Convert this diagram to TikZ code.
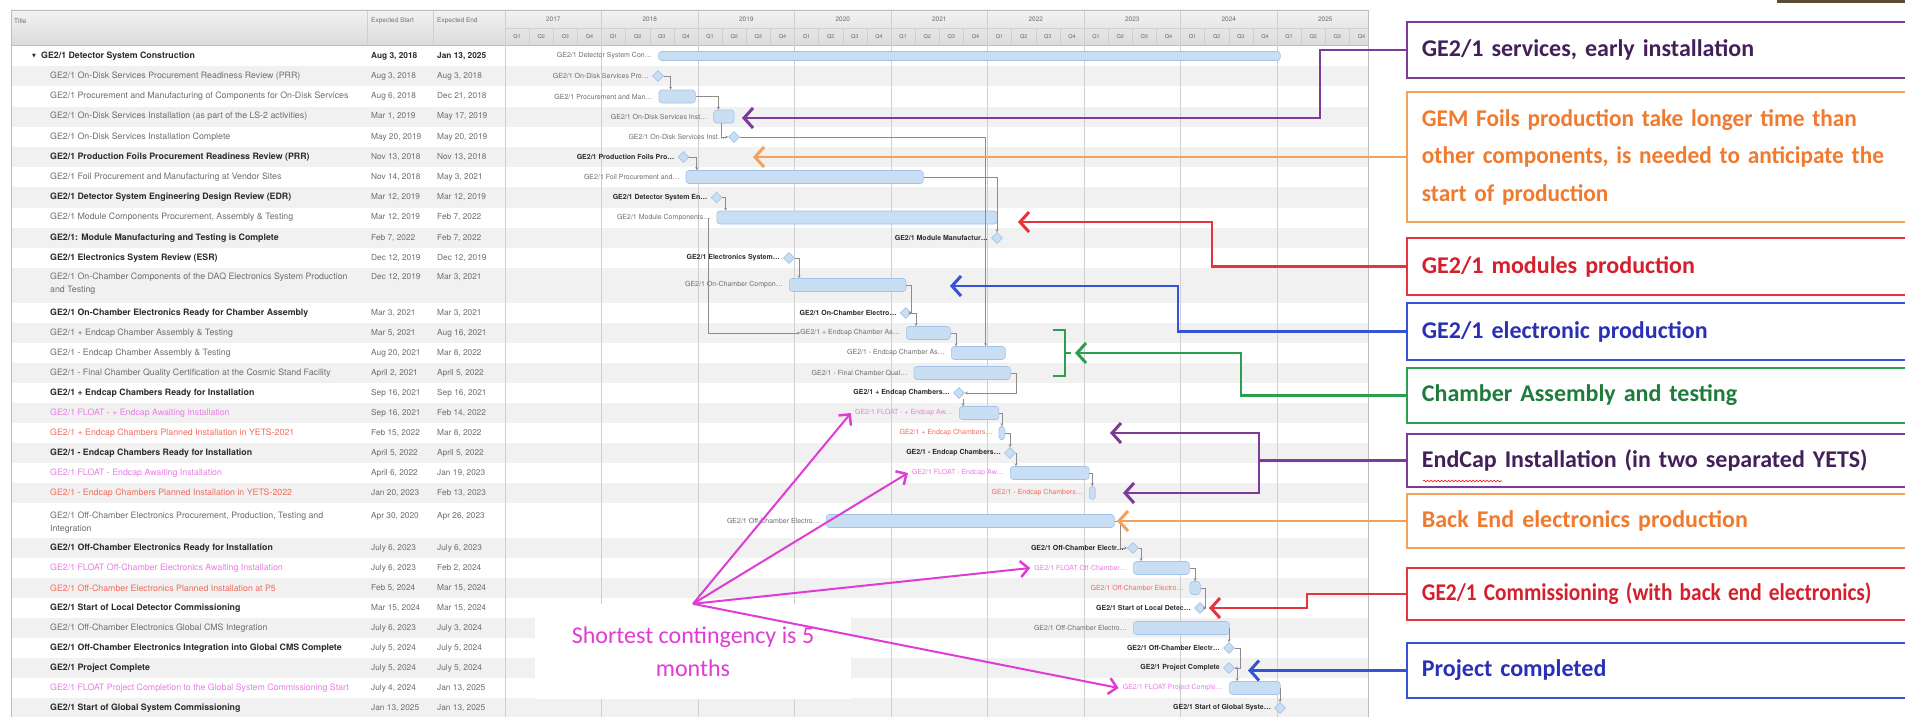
\documentclass[tikz,border=0pt]{standalone}
\usepackage{fontspec}
\usepackage{graphicx}
\setmainfont{TeX Gyre Heros}
\newfontfamily\calfont{Carlito}
\newfontfamily\djvfont{DejaVu Sans}
\usetikzlibrary{arrows.meta,shapes.geometric,decorations.pathmorphing}
\definecolor{tgray}{HTML}{6E6E6E}
\definecolor{tdark}{HTML}{2B2B2B}
\definecolor{flt}{HTML}{EA7BE6}
\definecolor{pln}{HTML}{F26B5E}
\definecolor{stripe}{HTML}{F1F1F1}
\definecolor{gridc}{HTML}{CFCFCF}
\definecolor{framec}{HTML}{BDBDBD}
\definecolor{barf}{HTML}{C9DEF3}
\definecolor{barb}{HTML}{A3C3E6}
\definecolor{depc}{HTML}{8C8C8C}
\definecolor{cpur}{HTML}{7E3A99}
\definecolor{cpurt}{HTML}{44205A}
\definecolor{cora}{HTML}{F5A15C}
\definecolor{corat}{HTML}{F07A2E}
\definecolor{cred}{HTML}{E8323C}
\definecolor{credt}{HTML}{D61F2C}
\definecolor{cblu}{HTML}{3553D2}
\definecolor{cblut}{HTML}{2A30B5}
\definecolor{cgrn}{HTML}{2C9E4E}
\definecolor{cgrnt}{HTML}{1E7B3B}
\definecolor{cmag}{HTML}{E03CD5}
\definecolor{darkbar}{HTML}{5B4B33}
\newcommand\tabrow[6]{%
  \node[#3] (t#1) at (50,#2) {#4};
  \node[datetxt] (s#1) at (371,#2) {#5};
  \node[datetxt] (e#1) at (437,#2) {#6};}
\newcommand\gbar[6]{%
  \node[gbarst, minimum width=#4pt-#3pt, anchor=west] (b#1) at (#3,#2) {};
  \node[glab,#6] (gl#1) at (#3-6,#2) {#5};}
\newcommand\gmil[5]{%
  \node[gms] (m#1) at (#3,#2) {};
  \node[glab,#5] (gl#1) at (#3-9,#2) {#4};}
\begin{document}
\begin{tikzpicture}[x=1pt,y=-1pt,
 rowtxt/.style={anchor=west, inner sep=0pt, font=\fontsize{8.8}{10}\selectfont, text=tgray},
 rowbold/.style={rowtxt, font=\bfseries\fontsize{8.8}{10}\selectfont, text=tdark},
 rowfloat/.style={rowtxt, text=flt},
 rowplan/.style={rowtxt, text=pln},
 datetxt/.style={anchor=west, inner sep=0pt, font=\fontsize{8.3}{10}\selectfont, text=tgray},
 hdrtxt/.style={anchor=west, inner sep=0pt, font=\fontsize{6.5}{8}\selectfont, text=tgray},
 glab/.style={anchor=east, inner sep=0pt, font=\fontsize{7}{8}\selectfont, text=tgray},
 gbold/.style={font=\bfseries\fontsize{7}{8}\selectfont, text=tdark},
 gfl/.style={text=flt}, gpl/.style={text=pln}, gno/.style={},
 gbarst/.style={draw=barb, fill=barf, rounded corners=3pt, minimum height=13pt, inner sep=0pt, line width=0.6pt},
 gms/.style={diamond, draw=barb, fill=barf, minimum size=11pt, inner sep=0pt, line width=0.6pt},
 dep/.style={draw=depc, line width=0.5pt, -{Stealth[length=3pt,width=3pt]}},
 cbox/.style={draw, line width=1.8pt, fill=white, anchor=west, inner xsep=15pt, inner ysep=0pt, align=left, text width=530pt, font=\calfont\bfseries\fontsize{24}{29}\selectfont},
 conn/.style={line width=2.2pt, -{Straight Barb[length=9pt,width=20pt,line width=3pt]}},
 marr/.style={draw=cmag, line width=2pt, -{Straight Barb[length=8pt,width=16pt,line width=2.5pt]}}
]
\useasboundingbox (0,0) rectangle (1905,717);
\fill[white] (0,0) rectangle (1905,717);
% stripes
\foreach \a/\b in {66/86,106.5/127,147/167,187/207.5,228/248,268/303,323/343,363/383,403/423,443/463,483/503,538/558,578/598,618/638,658/678,698/717}
  \fill[stripe] (11,\a) rectangle (1368,\b);
% header
\shade[top color=white!95!black, bottom color=white!86!black] (11,10) rectangle (1368,45);
\draw[framec] (11,45) -- (1368,45);
\draw[gridc] (505,28) -- (1368,28);
\foreach \x in {367,433} \draw[gridc] (\x,10) -- (\x,45);
\foreach \k in {0,...,8} \draw[gridc] ({505+96.5*\k},10) -- ({505+96.5*\k},717);
\foreach \k in {1,...,35} \draw[gridc] ({505+24.125*\k},28) -- ({505+24.125*\k},45);
\foreach \k in {0,...,35}{\pgfmathtruncatemacro\q{mod(\k,4)+1}
  \node[font=\fontsize{5.5}{6}\selectfont, text=tgray, inner sep=0pt] (q\k) at ({505+24.125*\k+12.06},36.5) {Q\q};}
\foreach \yr [count=\k from 0] in {2017,...,2025}
  \node[font=\fontsize{6.5}{7}\selectfont, text=tgray, inner sep=0pt] (yr\yr) at ({505+96.5*\k+48.25},19) {\yr};
\draw[framec, line width=0.8pt] (11,10) rectangle (1368,720);
\node[hdrtxt] (htitle) at (14,21) {Title};
\node[hdrtxt] (hstart) at (371,21) {Expected Start};
\node[hdrtxt] (hend) at (437,21) {Expected End};
% table rows
\node[font=\djvfont\fontsize{5}{6}\selectfont, text=tdark, inner sep=0pt] (tri) at (34,56) {▼};
\node[rowbold] (t1) at (41,56) {GE2/1 Detector System Construction};
\node[datetxt, font=\bfseries\fontsize{8.3}{10}\selectfont, text=tdark] (s1) at (371,56) {Aug 3, 2018};
\node[datetxt, font=\bfseries\fontsize{8.3}{10}\selectfont, text=tdark] (e1) at (437,56) {Jan 13, 2025};
\tabrow{2}{76}{rowtxt}{GE2/1 On-Disk Services Procurement Readiness Review (PRR)}{Aug 3, 2018}{Aug 3, 2018}
\tabrow{3}{96.5}{rowtxt}{GE2/1 Procurement and Manufacturing of Components for On-Disk Services}{Aug 6, 2018}{Dec 21, 2018}
\tabrow{4}{116.5}{rowtxt}{GE2/1 On-Disk Services Installation (as part of the LS-2 activities)}{Mar 1, 2019}{May 17, 2019}
\tabrow{5}{137}{rowtxt}{GE2/1 On-Disk Services Installation Complete}{May 20, 2019}{May 20, 2019}
\tabrow{6}{157}{rowbold}{GE2/1 Production Foils Procurement Readiness Review (PRR)}{Nov 13, 2018}{Nov 13, 2018}
\tabrow{7}{177}{rowtxt}{GE2/1 Foil Procurement and Manufacturing at Vendor Sites}{Nov 14, 2018}{May 3, 2021}
\tabrow{8}{197.5}{rowbold}{GE2/1 Detector System Engineering Design Review (EDR)}{Mar 12, 2019}{Mar 12, 2019}
\tabrow{9}{217.5}{rowtxt}{GE2/1 Module Components Procurement, Assembly \& Testing}{Mar 12, 2019}{Feb 7, 2022}
\tabrow{10}{238}{rowbold}{GE2/1: Module Manufacturing and Testing is Complete}{Feb 7, 2022}{Feb 7, 2022}
\tabrow{11}{258}{rowbold}{GE2/1 Electronics System Review (ESR)}{Dec 12, 2019}{Dec 12, 2019}
\node[rowtxt, align=left, font=\fontsize{8.8}{13}\selectfont] (t12) at (50,283.5) {GE2/1 On-Chamber Components of the DAQ Electronics System Production\\and Testing};
\node[datetxt] (s12) at (371,277) {Dec 12, 2019};
\node[datetxt] (e12) at (437,277) {Mar 3, 2021};
\tabrow{13}{313}{rowbold}{GE2/1 On-Chamber Electronics Ready for Chamber Assembly}{Mar 3, 2021}{Mar 3, 2021}
\tabrow{14}{333}{rowtxt}{GE2/1 + Endcap Chamber Assembly \& Testing}{Mar 5, 2021}{Aug 16, 2021}
\tabrow{15}{353}{rowtxt}{GE2/1 - Endcap Chamber Assembly \& Testing}{Aug 20, 2021}{Mar 8, 2022}
\tabrow{16}{373}{rowtxt}{GE2/1 - Final Chamber Quality Certification at the Cosmic Stand Facility}{April 2, 2021}{April 5, 2022}
\tabrow{17}{393}{rowbold}{GE2/1 + Endcap Chambers Ready for Installation}{Sep 16, 2021}{Sep 16, 2021}
\tabrow{18}{413}{rowfloat}{GE2/1 FLOAT - + Endcap Awaiting Installation}{Sep 16, 2021}{Feb 14, 2022}
\tabrow{19}{433}{rowplan}{GE2/1 + Endcap Chambers Planned Installation in YETS-2021}{Feb 15, 2022}{Mar 8, 2022}
\tabrow{20}{453}{rowbold}{GE2/1 - Endcap Chambers Ready for Installation}{April 5, 2022}{April 5, 2022}
\tabrow{21}{473}{rowfloat}{GE2/1 FLOAT - Endcap Awaiting Installation}{April 6, 2022}{Jan 19, 2023}
\tabrow{22}{493}{rowplan}{GE2/1 - Endcap Chambers Planned Installation in YETS-2022}{Jan 20, 2023}{Feb 13, 2023}
\node[rowtxt, align=left, font=\fontsize{8.8}{13}\selectfont] (t23) at (50,522.5) {GE2/1 Off-Chamber Electronics Procurement, Production, Testing and\\Integration};
\node[datetxt] (s23) at (371,516) {Apr 30, 2020};
\node[datetxt] (e23) at (437,516) {Apr 26, 2023};
\tabrow{24}{548}{rowbold}{GE2/1 Off-Chamber Electronics Ready for Installation}{July 6, 2023}{July 6, 2023}
\tabrow{25}{568}{rowfloat}{GE2/1 FLOAT Off-Chamber Electronics Awaiting Installation}{July 6, 2023}{Feb 2, 2024}
\tabrow{26}{588}{rowplan}{GE2/1 Off-Chamber Electronics Planned Installation at P5}{Feb 5, 2024}{Mar 15, 2024}
\tabrow{27}{608}{rowbold}{GE2/1 Start of Local Detector Commissioning}{Mar 15, 2024}{Mar 15, 2024}
\tabrow{28}{628}{rowtxt}{GE2/1 Off-Chamber Electronics Global CMS Integration}{July 6, 2023}{July 3, 2024}
\tabrow{29}{648}{rowbold}{GE2/1 Off-Chamber Electronics Integration into Global CMS Complete}{July 5, 2024}{July 5, 2024}
\tabrow{30}{668}{rowbold}{GE2/1 Project Complete}{July 5, 2024}{July 5, 2024}
\tabrow{31}{688}{rowfloat}{GE2/1 FLOAT Project Completion to the Global System Commissioning Start}{July 4, 2024}{Jan 13, 2025}
\tabrow{32}{708}{rowbold}{GE2/1 Start of Global System Commissioning}{Jan 13, 2025}{Jan 13, 2025}
% gantt
\node[gbarst, minimum height=9pt, minimum width=621.6pt, anchor=west] (b1) at (658.4,56) {};
\node[glab] (gl1) at (652,56) {GE2/1 Detector System Con\ldots};
\gmil{2}{76}{658}{GE2/1 On-Disk Services Pro\ldots}{gno}
\gbar{3}{96.5}{658.6}{695}{GE2/1 Procurement and Man\ldots}{gno}
\gbar{4}{116.5}{713.4}{733.8}{GE2/1 On-Disk Services Inst\ldots}{gno}
\gmil{5}{137}{734}{GE2/1 On-Disk Services Inst\ldots}{gno}
\gmil{6}{157}{683.5}{GE2/1 Production Foils Pro\ldots}{gbold}
\gbar{7}{177}{685.7}{923}{GE2/1 Foil Procurement and\ldots}{gno}
\gmil{8}{197.5}{716.6}{GE2/1 Detector System En\ldots}{gbold}
\gbar{9}{217.5}{716.6}{997}{GE2/1 Module Components\ldots}{gno}
\gmil{10}{238}{997}{GE2/1 Module Manufactur\ldots}{gbold}
\gmil{11}{258}{789}{GE2/1 Electronics System\ldots}{gbold}
\gbar{12}{285}{789}{905.7}{GE2/1 On-Chamber Compon\ldots}{gno}
\gmil{13}{313}{905.7}{GE2/1 On-Chamber Electro\ldots}{gbold}
\gbar{14}{333}{906}{950}{GE2/1 + Endcap Chamber As\ldots}{gno}
\gbar{15}{353}{951}{1005}{GE2/1 - Endcap Chamber As\ldots}{gno}
\gbar{16}{373}{913.6}{1010}{GE2/1 - Final Chamber Qual\ldots}{gno}
\gmil{17}{393}{959}{GE2/1 + Endcap Chambers\ldots}{gbold}
\gbar{18}{413}{959}{998.6}{GE2/1 FLOAT - + Endcap Aw\ldots}{gfl}
\gbar{19}{433}{998.7}{1004.4}{GE2/1 + Endcap Chambers\ldots}{gpl}
\gmil{20}{453}{1010}{GE2/1 - Endcap Chambers\ldots}{gbold}
\gbar{21}{473}{1010}{1088.8}{GE2/1 FLOAT - Endcap Aw\ldots}{gfl}
\gbar{22}{493}{1089}{1095}{GE2/1 - Endcap Chambers\ldots}{gpl}
\gbar{23}{521}{826}{1114}{GE2/1 Off-Chamber Electro\ldots}{gno}
\gmil{24}{548}{1133}{GE2/1 Off-Chamber Electr\ldots}{gbold}
\gbar{25}{568}{1133}{1189}{GE2/1 FLOAT Off-Chamber\ldots}{gfl}
\gbar{26}{588}{1189.6}{1200}{GE2/1 Off-Chamber Electro\ldots}{gpl}
\gmil{27}{608}{1200}{GE2/1 Start of Local Detec\ldots}{gbold}
\gbar{28}{628}{1133}{1229}{GE2/1 Off-Chamber Electro\ldots}{gno}
\gmil{29}{648}{1229}{GE2/1 Off-Chamber Electr\ldots}{gbold}
\gmil{30}{668}{1229}{GE2/1 Project Complete}{gbold}
\gbar{31}{688}{1229}{1280}{GE2/1 FLOAT Project Comple\ldots}{gfl}
\gmil{32}{708}{1280}{GE2/1 Start of Global Syste\ldots}{gbold}
% dependencies
\draw[dep] (m2.east) -| ([xshift=12pt]b3.north west);
\draw[dep] (b3.east) -| ([xshift=5pt]b4.north west);
\draw[dep] ([xshift=-3pt]b4.south) |- (m5.west);
\draw[dep] (m6.east) -| ([xshift=11pt]b7.north west);
\draw[dep] (m8.east) -| ([xshift=9pt]b9.north west);
\draw[dep] (b7.east) -| (m10.north);
\draw[dep] (m11.east) -| ([xshift=10pt]b12.north west);
\draw[dep] (b12.east) -- ++(5,0) |- (m13.east);
\draw[dep] (m13.east) -| ([xshift=10pt]b14.north west);
\draw[dep] (b14.east) -| ([xshift=5pt]b15.north west);
\draw[dep] (m5.east) -| ([xshift=-20pt]b15.north east);
\draw[dep] ([xshift=-8pt]b9.west) |- (gl14.west);
\draw[dep] (b16.east) -- ++(6,0) |- (m17.east);
\draw[dep] ([xshift=4pt]m17.south) -- ([xshift=4pt]m17.south |- b18.north);
\draw[dep] (b18.east) -| (b19.north);
\draw[dep] (b19.east) -| (m20.north);
\draw[dep] (m20.east) -| ([xshift=6pt]b21.north west);
\draw[dep] (b21.east) -| (b22.north);
\draw[dep] (b23.east) -- ++(6,0) |- (m24.west);
\draw[dep] (m24.east) -| ([xshift=8pt]b25.north west);
\draw[dep] (b25.east) -| (b26.north);
\draw[dep] (b26.east) -- ++(5,0) |- (m27.east);
\draw[dep] (b28.east) -| (m29.north);
\draw[dep] (m29.east) -- ++(5,0) |- (m30.east);
\draw[dep] (m30.east) -| ([xshift=8pt]b31.north west);
\draw[dep] (b31.east) -| (m32.north);
% callout boxes
\node[cbox, draw=cpur, text=cpurt, minimum height=56pt] (c1) at (1406,50) {GE2/1 services, early installation};
\node[cbox, draw=cora, text=corat, minimum height=130pt, font=\calfont\bfseries\fontsize{24}{37.5}\selectfont] (c2) at (1406,157) {\scalebox{0.97}[1]{GEM Foils production take longer time than}\\\scalebox{0.97}[1]{other components, is needed to anticipate the}\\\scalebox{0.97}[1]{start of production}};
\node[cbox, draw=cred, text=credt, minimum height=57pt] (c3) at (1406,266.5) {GE2/1 modules production};
\node[cbox, draw=cblu, text=cblut, minimum height=57pt] (c4) at (1406,331.5) {GE2/1 electronic production};
\node[cbox, draw=cgrn, text=cgrnt, minimum height=55pt] (c5) at (1406,395.5) {Chamber Assembly and testing};
\node[cbox, draw=cpur, text=cpurt, minimum height=53pt] (c6) at (1406,460.5) {EndCap Installation (in two separated YETS)};
\node[cbox, draw=cora, text=corat, minimum height=54pt] (c7) at (1406,521) {Back End electronics production};
\node[cbox, draw=cred, text=credt, minimum height=52pt] (c8) at (1406,594) {\scalebox{0.89}[1]{GE2/1 Commissioning (with back end electronics)}};
\node[cbox, draw=cblu, text=cblut, minimum height=55pt] (c9) at (1406,670.5) {Project completed};
\draw[red, line width=0.6pt, decorate, decoration={snake, amplitude=0.8pt, segment length=3.5pt}] (1423,481) -- (1502,481);
% callout connectors
\coordinate (a1) at (742,118);
\draw[conn, draw=cpur] (c1.west) -- (1320,50) -- (1320,118) -- (a1);
\coordinate (a2) at (753,157);
\draw[conn, draw=cora] (c2.west) -- (a2);
\coordinate (a3) at (1018,222);
\draw[conn, draw=cred] (c3.west) -- (1212,266.5) -- (1212,222) -- (a3);
\coordinate (a4) at (950,286);
\draw[conn, draw=cblu] (c4.west) -- (1178,331.5) -- (1178,286) -- (a4);
\coordinate (a5) at (1075,353);
\draw[conn, draw=cgrn] (c5.west) -- (1241,395.5) -- (1241,353) -- (a5);
\draw[cgrn, line width=2pt] (1053,330) -- (1065,330) -- (1065,376) -- (1053,376) (1065,353) -- (1071,353);
\coordinate (j6) at (1259,460.5);
\coordinate (a6a) at (1110,433);
\coordinate (a6b) at (1123,493);
\draw[line width=2.2pt, cpur] (c6.west) -- (j6);
\draw[conn, draw=cpur] (j6) -- (1259,433) -- (a6a);
\draw[conn, draw=cpur] (j6) -- (1259,493) -- (a6b);
\coordinate (a7) at (1117,521);
\draw[conn, draw=cora] (c7.west) -- (a7);
\coordinate (a8) at (1209,608);
\draw[conn, draw=cred] (c8.west) -- (1307,594) -- (1307,608) -- (a8);
\coordinate (a9) at (1248,670.5);
\draw[conn, draw=cblu] (c9.west) -- (a9);
% contingency note
\node[fill=white, text=cmag, align=center, minimum width=316pt, minimum height=95pt, inner sep=0pt, font=\calfont\fontsize{24}{33}\selectfont] (sc) at (693,651.5) {Shortest contingency is 5\\months};
\draw[marr] (sc.north) -- ([xshift=-4pt]gl18.west);
\draw[marr] (sc.north) -- ([xshift=-4pt]gl21.west);
\draw[marr] (sc.north) -- ([xshift=-4pt]gl25.west);
\draw[marr] (sc.north) -- ([xshift=-4pt]gl31.west);
\fill[darkbar] (1777,0) rectangle (1905,3);
\end{tikzpicture}
\end{document}
